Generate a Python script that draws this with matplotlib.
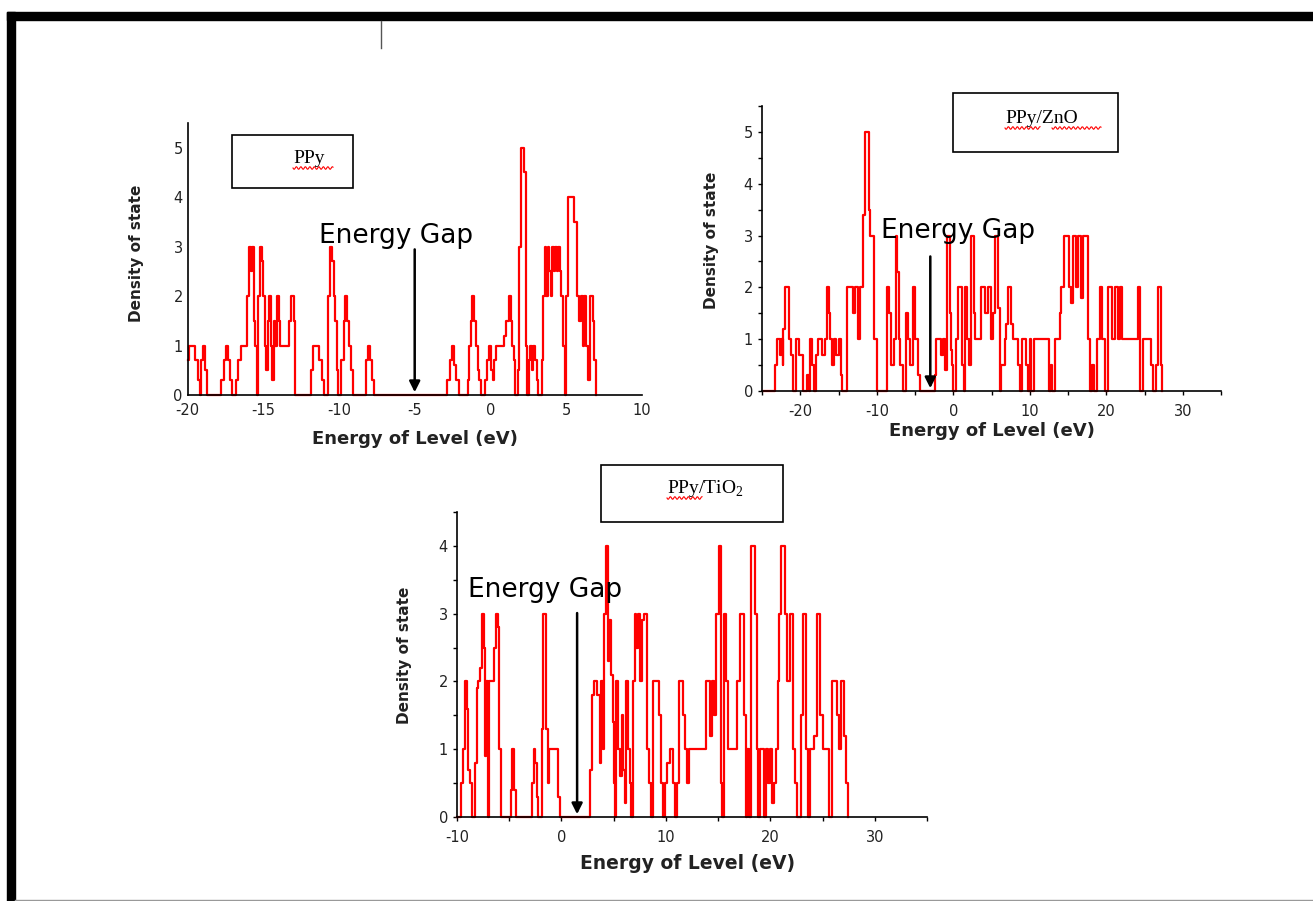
import matplotlib
matplotlib.use('Agg')
import matplotlib.pyplot as plt
from matplotlib.patches import Rectangle
from matplotlib.lines import Line2D
import numpy as np

W, H = 1313, 901

# density of states as (energy, value) step points
ppy_steps = [(-20.0, 0.7), (-19.9, 1), (-19.5, 0.7), (-19.35, 0.3), (-19.2, 0), (-19.1, 0.7), (-19.0, 1),
             (-18.85, 0.5), (-18.75, 0), (-17.8, 0.3), (-17.6, 0.7), (-17.45, 1), (-17.35, 0.7), (-17.2, 0.3),
             (-17.1, 0), (-16.8, 0.3), (-16.65, 0.7), (-16.45, 1), (-16.05, 2), (-15.95, 3), (-15.85, 2.5),
             (-15.75, 3), (-15.65, 1.5), (-15.55, 1), (-15.45, 0), (-15.35, 2), (-15.25, 3), (-15.1, 2.7),
             (-15.0, 2), (-14.9, 1), (-14.8, 0.5), (-14.7, 1.5), (-14.6, 2), (-14.5, 1), (-14.4, 0.3),
             (-14.3, 1.5), (-14.2, 1), (-14.1, 2), (-14.0, 1.5), (-13.9, 1), (-13.3, 1.5), (-13.2, 2),
             (-13.0, 1.5), (-12.9, 0), (-11.85, 0.5), (-11.7, 1), (-11.3, 0.7), (-11.15, 0.3), (-11.0, 0),
             (-10.75, 2), (-10.6, 3), (-10.45, 2.7), (-10.35, 2), (-10.25, 1.5), (-10.15, 0.5), (-10.05, 0),
             (-9.85, 0.7), (-9.7, 1.5), (-9.6, 2), (-9.5, 1.5), (-9.35, 1), (-9.2, 0.5), (-9.05, 0),
             (-8.25, 0.7), (-8.1, 1), (-7.95, 0.7), (-7.8, 0.3), (-7.7, 0), (-2.85, 0.3), (-2.7, 0.7),
             (-2.55, 1), (-2.4, 0.6), (-2.25, 0.3), (-2.1, 0), (-1.5, 0.3), (-1.4, 1), (-1.3, 1.5), (-1.2, 2),
             (-1.05, 1.5), (-0.95, 1), (-0.85, 0.5), (-0.75, 0.3), (-0.65, 0), (-0.35, 0.3), (-0.25, 0.7),
             (-0.1, 1), (0.05, 0.5), (0.15, 0.3), (0.25, 0.7), (0.35, 1), (0.9, 1.2), (1.05, 1.5), (1.2, 2),
             (1.35, 1.5), (1.45, 1), (1.55, 0.7), (1.65, 0), (1.8, 0.5), (1.9, 3), (2.0, 4.5), (2.05, 5),
             (2.25, 4.5), (2.35, 1), (2.45, 0), (2.55, 0.7), (2.65, 1), (2.75, 0.5), (2.85, 1), (2.95, 0.7),
             (3.05, 0.3), (3.15, 0), (3.4, 0.7), (3.5, 2), (3.6, 3), (3.7, 2), (3.8, 3), (3.9, 2.5), (4.0, 2),
             (4.1, 3), (4.2, 2.5), (4.3, 3), (4.4, 2.5), (4.5, 3), (4.6, 2.5), (4.7, 2), (4.8, 1), (4.9, 0),
             (5.0, 2), (5.1, 4), (5.55, 3.5), (5.7, 2), (5.85, 1.5), (6.0, 2), (6.1, 1), (6.2, 2), (6.35, 1),
             (6.45, 0.3), (6.6, 2), (6.75, 1.5), (6.85, 0.7), (7.0, 0)]

zno_steps = [(-24.8, 0), (-23.3, 0.5), (-23.1, 1), (-22.7, 0.7), (-22.55, 1), (-22.3, 0.5), (-22.2, 1.2),
             (-22.0, 2), (-21.5, 1), (-21.2, 0.7), (-20.9, 0), (-20.5, 1), (-20.1, 0.7), (-19.7, 0),
             (-19.1, 0.3), (-18.9, 0), (-18.7, 1), (-18.4, 0.5), (-18.2, 0), (-17.9, 0.7), (-17.7, 1),
             (-17.1, 0.7), (-16.8, 1), (-16.5, 2), (-16.3, 1.5), (-16.1, 1), (-15.8, 0.5), (-15.6, 1),
             (-15.3, 0.7), (-15.0, 1), (-14.7, 0.3), (-14.5, 0), (-13.9, 2), (-13.1, 1.5), (-12.9, 2),
             (-12.5, 1), (-12.2, 2), (-11.8, 3.4), (-11.55, 5), (-11.0, 3.5), (-10.85, 3), (-10.3, 1),
             (-10.0, 0), (-8.7, 2), (-8.4, 1.5), (-8.1, 0.5), (-7.8, 1), (-7.5, 3), (-7.3, 2.3), (-7.1, 1),
             (-6.9, 0.5), (-6.6, 0), (-6.2, 1.5), (-5.9, 1), (-5.6, 0.5), (-5.3, 2), (-5.0, 1), (-4.6, 0.3),
             (-4.4, 0), (-2.4, 0.3), (-2.2, 1), (-1.6, 0.7), (-1.4, 1), (-1.1, 0.4), (-0.85, 3), (-0.45, 1.5),
             (-0.3, 0.8), (-0.15, 0.5), (0.0, 0), (0.35, 1), (0.6, 2), (1.15, 0.5), (1.35, 0), (1.55, 2),
             (1.85, 1), (2.1, 0.5), (2.35, 3), (2.7, 1.5), (2.9, 1), (3.6, 2), (4.2, 1.5), (4.5, 2), (4.9, 1),
             (5.2, 1.5), (5.45, 3), (5.8, 1.6), (6.05, 0), (6.3, 0.5), (6.7, 1), (6.95, 1.3), (7.15, 2),
             (7.55, 1.3), (7.8, 1), (8.5, 0.5), (8.75, 0), (9.05, 1), (9.5, 0.5), (9.75, 0), (10.0, 1),
             (10.2, 0), (10.6, 1), (12.5, 0), (12.75, 0.5), (12.95, 0), (13.3, 1), (13.9, 1.5), (14.15, 2),
             (14.5, 3), (15.15, 2), (15.4, 1.7), (15.65, 3), (16.05, 2), (16.3, 3), (16.7, 1.8), (16.95, 3),
             (17.55, 1), (17.85, 0), (18.2, 0.5), (18.45, 0), (18.75, 1), (19.15, 2), (19.5, 1), (19.85, 0),
             (20.2, 2), (20.75, 1), (21.1, 2), (21.5, 1), (21.75, 2), (22.1, 1), (24.1, 2), (24.35, 0),
             (24.8, 1), (25.8, 0.5), (26.1, 0), (26.5, 0.5), (26.75, 2), (27.1, 0.5), (27.35, 0)]

tio2_steps = [(-10.0, 0), (-9.6, 0.5), (-9.45, 1), (-9.25, 2), (-9.0, 1.6), (-8.9, 0.7), (-8.75, 0.5),
              (-8.6, 0), (-8.25, 0.8), (-8.1, 1.9), (-7.95, 2), (-7.8, 2.2), (-7.65, 3), (-7.45, 2.5),
              (-7.3, 0.9), (-7.2, 2), (-7.05, 0), (-6.95, 2), (-6.45, 2.5), (-6.3, 3), (-6.1, 2.8),
              (-5.95, 1), (-5.8, 0), (-4.8, 0.4), (-4.7, 1), (-4.5, 0.4), (-4.35, 0), (-2.8, 0.5),
              (-2.65, 1), (-2.5, 0.8), (-2.35, 0.3), (-2.2, 0), (-1.85, 1.3), (-1.75, 3), (-1.45, 1.3),
              (-1.3, 0.5), (-1.15, 1), (-0.35, 0.3), (-0.15, 0), (2.7, 0.7), (2.9, 1.8), (3.15, 2),
              (3.45, 1.8), (3.65, 0.8), (3.8, 2), (3.95, 1), (4.1, 3), (4.25, 4), (4.45, 2.3), (4.6, 2.9),
              (4.75, 2.1), (4.9, 1.4), (5.0, 0.5), (5.1, 0), (5.2, 2), (5.45, 1), (5.6, 0.6), (5.75, 1.5),
              (5.9, 0.7), (6.05, 0.2), (6.15, 2), (6.4, 1), (6.55, 0.5), (6.7, 0), (6.85, 2), (7.0, 3),
              (7.15, 2.5), (7.35, 3), (7.55, 2), (7.7, 2.9), (7.9, 3), (8.15, 1), (8.35, 0.5), (8.55, 0),
              (8.75, 2), (9.3, 1.5), (9.5, 0.5), (9.7, 0), (9.9, 0.5), (10.15, 0.8), (10.35, 1), (10.65, 0.5),
              (10.85, 0), (11.1, 0.5), (11.3, 2), (11.6, 1.5), (11.85, 1), (12.0, 0.5), (12.2, 1), (13.85, 2),
              (14.2, 1.2), (14.4, 2), (14.6, 1.5), (14.8, 3), (15.05, 4), (15.25, 0.5), (15.4, 0), (15.55, 3),
              (15.75, 2), (15.9, 1), (16.8, 2), (17.1, 3), (17.5, 1.5), (17.65, 0), (17.8, 1), (17.95, 0),
              (18.15, 4), (18.55, 3), (18.7, 1), (18.85, 0), (19.0, 1), (19.35, 0), (19.55, 1), (19.75, 0.5),
              (19.95, 1), (20.2, 0.2), (20.35, 0.5), (20.55, 1), (20.7, 2), (20.85, 3), (21.0, 4), (21.4, 3),
              (21.6, 2), (21.85, 3), (22.2, 1), (22.4, 0.5), (22.6, 0), (22.9, 1.5), (23.1, 3), (23.4, 1),
              (23.6, 0), (23.75, 1), (24.2, 1.2), (24.5, 3), (24.8, 1.5), (25.05, 1), (25.65, 0), (25.95, 2),
              (26.35, 1.5), (26.55, 1), (26.75, 2), (27.05, 1.2), (27.2, 0.5), (27.4, 0)]

ppy_e, ppy_dos = np.array(ppy_steps).T
zno_e, zno_dos = np.array(zno_steps).T
tio2_e, tio2_dos = np.array(tio2_steps).T

# where the "Energy Gap" arrow points
gap_ppy = -5
gap_zno = -3
gap_tio2 = 1.5


def fx(x):
    return x / W


def fy(y):
    return 1 - y / H


def squiggle(fig, x0, x1, y):
    xs = np.linspace(x0, x1, 60)
    ys = y + 1.3 * np.sin((xs - x0) * 2 * np.pi / 4.5)
    fig.add_artist(Line2D(fx(xs), fy(ys), color='red', lw=0.8, transform=fig.transFigure))


plt.rcParams['font.family'] = 'DejaVu Sans'
plt.rcParams['axes.unicode_minus'] = False
fig = plt.figure(figsize=(W / 100, H / 100), dpi=100)

# page frame
fig.add_artist(Rectangle((fx(7), fy(20)), fx(1306), 8 / H, color='black', transform=fig.transFigure))
fig.add_artist(Rectangle((fx(7), 0), 8 / W, fy(12), color='black', transform=fig.transFigure))
fig.add_artist(Line2D([fx(15), 1], [fy(900), fy(900)], color='#999999', lw=1, transform=fig.transFigure))
fig.add_artist(Line2D([fx(381), fx(381)], [fy(21), fy(48)], color='#555555', lw=1, transform=fig.transFigure))


def panel(rect, e, dos, xlim, ylim, xticks, yticks, xminor, yminor, gap, gap_top, text_xy, fs_lab, ticklen):
    ax = fig.add_axes(rect)
    ax.plot(e, dos, drawstyle='steps-post', color='red', lw=1.6, clip_on=False)
    ax.set_xlim(*xlim)
    ax.set_ylim(*ylim)
    ax.set_xticks(xticks)
    ax.set_yticks(yticks)
    if xminor is not None:
        ax.set_xticks(xminor, minor=True)
    if yminor is not None:
        ax.set_yticks(yminor, minor=True)
    for s in ['top', 'right']:
        ax.spines[s].set_visible(False)
    for s in ['left', 'bottom']:
        ax.spines[s].set_linewidth(1.2)
    ax.tick_params(which='both', length=ticklen, width=1, labelsize=10.5, labelcolor='#222222')
    ax.tick_params(axis='x', pad=6)
    ax.set_xlabel('Energy of Level (eV)', fontsize=fs_lab, fontweight='bold', color='#222222')
    ax.set_ylabel('Density of state', fontsize=11, fontweight='bold', color='#222222')
    ax.annotate('', xy=(gap, 0), xytext=(gap, gap_top),
                arrowprops=dict(arrowstyle='-|>', color='black', lw=1.8, mutation_scale=16))
    ax.text(text_xy[0], text_xy[1], 'Energy Gap', fontsize=19, ha='left', va='baseline')
    return ax


ax1 = panel([fx(187.7), fy(395), 454 / W, 272 / H], ppy_e, ppy_dos, (-20, 10), (0, 5.5),
            np.arange(-20, 11, 5), np.arange(0, 6), None, None, gap_ppy, 3.0, (-11.3, 3.08), 13, 0)
ax2 = panel([fx(762), fy(391), 459 / W, 285 / H], zno_e, zno_dos, (-25, 35), (0, 5.5),
            np.arange(-20, 31, 10), np.arange(0, 6), np.arange(-25, 36, 5), np.arange(0, 5.6, 0.5),
            gap_zno, 2.65, (-9.5, 2.95), 13, 3)
ax3 = panel([fx(457), fy(817), 470 / W, 305 / H], tio2_e, tio2_dos, (-10, 35), (0, 4.5),
            np.arange(-10, 31, 10), np.arange(0, 5), np.arange(-10, 36, 5), np.arange(0, 4.6, 0.5),
            gap_tio2, 3.05, (-8.95, 3.24), 13.5, 3)

ax1.xaxis.set_label_coords(0.5, -0.13)
ax1.yaxis.set_label_coords(-0.096, 0.52)
ax2.xaxis.set_label_coords(0.5, -0.11)
ax2.yaxis.set_label_coords(-0.094, 0.53)
ax3.xaxis.set_label_coords(0.49, -0.12)
ax3.yaxis.set_label_coords(-0.096, 0.53)

# material name boxes
boxes = [((232, 135, 121, 53), 'PPy', (293, 163)),
         ((953, 93, 165, 59), 'PPy/ZnO', (1005, 123)),
         ((601, 465, 182, 57), r'PPy/TiO$_\mathregular{2}$', (667, 493))]
for (bx, by, bw, bh), name, (tx, ty) in boxes:
    fig.add_artist(Rectangle((fx(bx), fy(by + bh)), bw / W, bh / H, fill=False, ec='black', lw=1.2,
                             transform=fig.transFigure))
    fig.text(fx(tx), fy(ty), name, fontsize=14, family='Liberation Serif', va='baseline', ha='left')

squiggle(fig, 293, 333, 168)
squiggle(fig, 1005, 1040, 128)
squiggle(fig, 1052, 1101, 128)
squiggle(fig, 667, 702, 498)

fig.savefig('out.png', dpi=100)
